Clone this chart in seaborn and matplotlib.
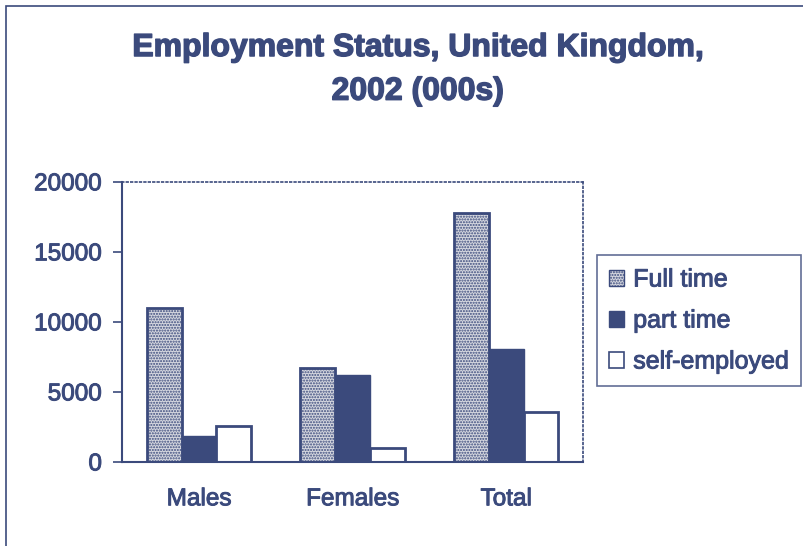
import seaborn as sns
import matplotlib.pyplot as plt
import matplotlib.patheffects as pe
import pandas as pd
from matplotlib.patches import Rectangle

# data (000s)
categories = ['Males', 'Females', 'Total']
series = ['Full time', 'part time', 'self-employed']
full_time = [11000, 6700, 17750]
part_time = [1880, 6200, 8050]
self_employed = [2570, 1000, 3590]

navy = '#3b4a7c'
thick = [pe.withStroke(linewidth=0.7, foreground=navy)]

rows = []
for i, c in enumerate(categories):
    rows.append((c, series[0], full_time[i]))
    rows.append((c, series[1], part_time[i]))
    rows.append((c, series[2], self_employed[i]))
df = pd.DataFrame(rows, columns=['group', 'status', 'value'])

sns.set_style('white')
plt.rcParams['font.family'] = ['Liberation Sans', 'DejaVu Sans']
plt.rcParams['hatch.color'] = navy
plt.rcParams['hatch.linewidth'] = 1.0

fig = plt.figure(figsize=(8.04, 5.46), dpi=100)
ax = fig.add_axes([0.152, 0.154, 0.573, 0.513])

sns.barplot(data=df, x='group', y='value', hue='status', order=categories,
            hue_order=series, width=0.68, ax=ax, legend=False)

styles = [
    dict(facecolor='#d5d7df', edgecolor=navy, hatch='......', linewidth=2),
    dict(facecolor=navy, edgecolor=navy, hatch=None, linewidth=1),
    dict(facecolor='white', edgecolor=navy, hatch=None, linewidth=2),
]
for cont, st in zip(ax.containers, styles):
    for bar in cont:
        bar.set_facecolor(st['facecolor'])
        bar.set_edgecolor(st['edgecolor'])
        bar.set_linewidth(st['linewidth'])
        if st['hatch']:
            bar.set_hatch(st['hatch'])

ax.set_ylim(0, 20000)
ax.set_xlim(-0.5, 2.5)
ax.set_yticks([0, 5000, 10000, 15000, 20000])
ax.set_xlabel('')
ax.set_ylabel('')
ax.set_xticks([-0.5, 0.5, 1.5, 2.5], minor=True)
ax.tick_params(axis='x', which='major', length=0, pad=19, labelsize=17.5, labelcolor=navy)
ax.tick_params(axis='x', which='minor', length=6, width=1.2, color=navy, direction='out')
ax.tick_params(axis='y', length=6.5, width=1.2, color=navy, direction='out', pad=8,
               labelsize=17.5, labelcolor=navy, left=True)
for lbl in ax.get_xticklabels() + ax.get_yticklabels():
    lbl.set_path_effects(thick)

for s in ['left', 'bottom']:
    ax.spines[s].set_color(navy)
    ax.spines[s].set_linewidth(1.5)
for s in ['top', 'right']:
    ax.spines[s].set_visible(True)
    ax.spines[s].set_color(navy)
    ax.spines[s].set_linestyle(':')
    ax.spines[s].set_linewidth(1.2)

handles = [Rectangle((0, 0), 1, 1, **{k: v for k, v in st.items() if v is not None})
           for st in styles]
handles[0].set_linewidth(1)
handles[2].set_linewidth(1.2)
leg = fig.legend(handles, series, loc='upper left', bbox_to_anchor=(0.7425, 0.533),
                 frameon=True, fancybox=False, fontsize=18, handlelength=0.6,
                 handleheight=0.6, handletextpad=0.35, labelspacing=0.68,
                 borderpad=0.5, borderaxespad=0, labelcolor=navy)
leg.get_frame().set_edgecolor(navy)
leg.get_frame().set_linewidth(1.2)
for t in leg.get_texts():
    t.set_path_effects(thick)

title_fx = [pe.withStroke(linewidth=1.0, foreground=navy)]
fig.text(0.52, 0.912, 'Employment Status, United Kingdom,', ha='center', va='center',
         fontsize=23, fontweight='bold', color=navy, path_effects=title_fx)
fig.text(0.52, 0.832, '2002 (000s)', ha='center', va='center',
         fontsize=23, fontweight='bold', color=navy, path_effects=title_fx)

# outer chart frame
fig.patches.append(Rectangle((0.007, -0.1), 1.2, 1.089, transform=fig.transFigure,
                             fill=False, edgecolor=navy, linewidth=1.2))

fig.savefig('out.png', dpi=100)
